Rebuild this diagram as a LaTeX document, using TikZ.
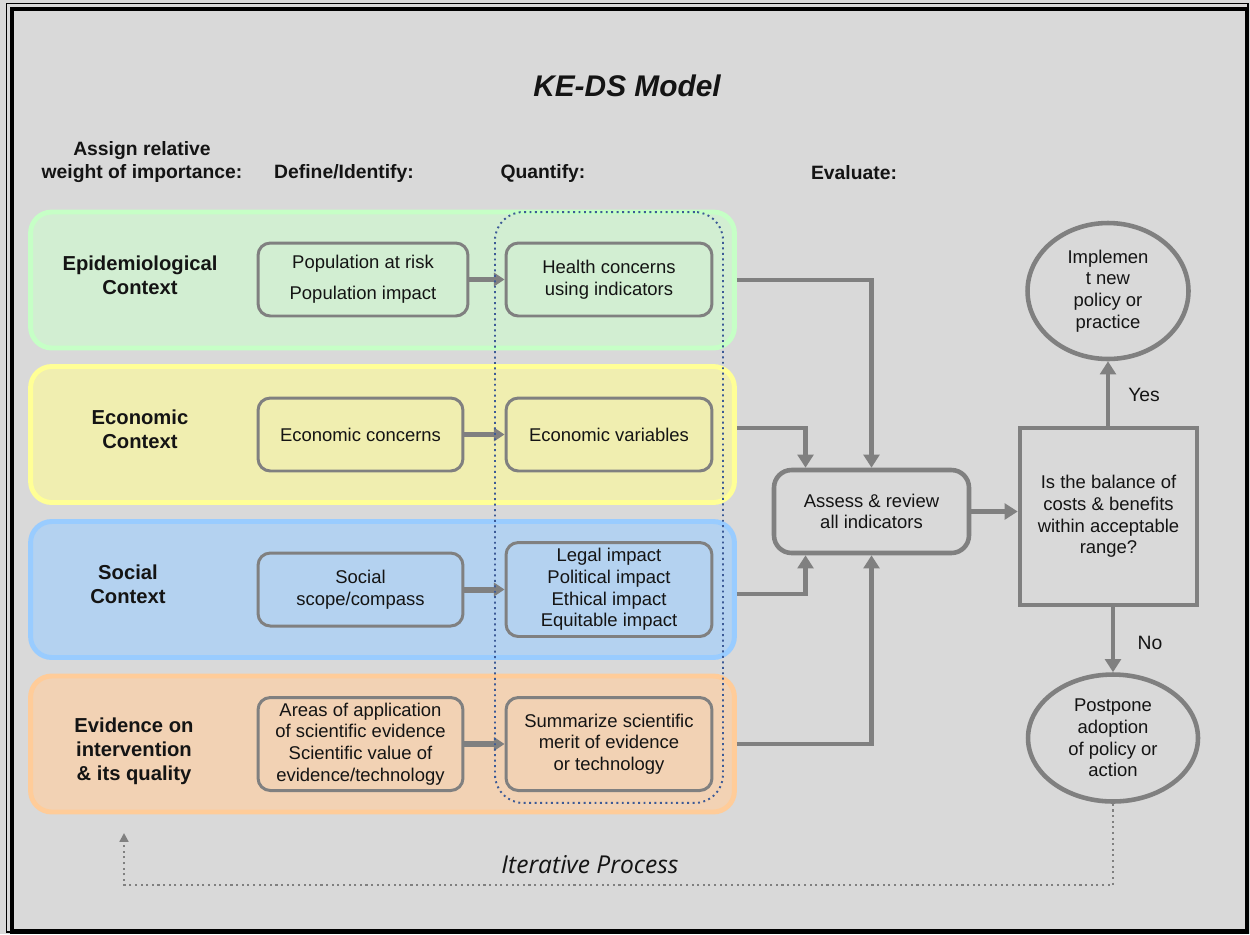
\documentclass[tikz,border=0pt]{standalone}
\usepackage{fontspec}
\setmainfont{Liberation Sans}
\newfontfamily\iterfont{Open Sans}
\usetikzlibrary{arrows.meta,shapes.geometric}

\definecolor{bggray}{RGB}{217,217,217}
\definecolor{linegray}{RGB}{128,128,128}
\definecolor{txt}{RGB}{20,20,20}
\definecolor{epifill}{RGB}{210,238,210}
\definecolor{epiline}{RGB}{198,255,198}
\definecolor{ecofill}{RGB}{240,238,176}
\definecolor{ecoline}{RGB}{255,255,150}
\definecolor{socfill}{RGB}{180,210,240}
\definecolor{socline}{RGB}{153,204,255}
\definecolor{evifill}{RGB}{242,210,180}
\definecolor{eviline}{RGB}{255,204,153}
\definecolor{qblue}{RGB}{60,90,150}

\begin{document}
\begin{tikzpicture}[x=0.02cm,y=-0.02cm,
  band/.style={line width=2.8pt, rounded corners=12pt, minimum width=14.08cm, minimum height=2.72cm, inner sep=0pt},
  lbl/.style={align=center, text=txt, font=\bfseries\fontsize{11.5}{13.6}\selectfont},
  hdr/.style={align=center, text=txt, font=\bfseries\fontsize{11}{13}\selectfont},
  stepbox/.style={draw=linegray, line width=1.7pt, rounded corners=7pt, align=center, text=txt,
    inner sep=0pt, font=\fontsize{10.5}{12.4}\selectfont},
  ovalbox/.style={ellipse, draw=linegray, line width=2.6pt, align=center, text=txt,
    inner sep=0pt, font=\fontsize{10.5}{12.4}\selectfont},
  conn/.style={draw=linegray, line width=2.7pt, -{Triangle[length=7.5pt,width=9pt]}},
  feed/.style={draw=linegray, line width=3.4pt, -{Triangle[length=6pt,width=7.5pt]}},
  iter/.style={draw=linegray, line width=1.2pt, dotted, -{Triangle[length=5pt,width=5pt]}}
]
\useasboundingbox (0,0) rectangle (1250,934);
\fill[bggray] (0,0) rectangle (1250,934);

% Frame
\draw[black, line width=0.8pt] (6.5,3.5) rectangle (1248,932);
\draw[black, line width=2.6pt] (12,9) rectangle (1247,931.5);

% Title and column headers
\node[font=\bfseries\itshape\fontsize{17}{20}\selectfont, text=txt] (title) at (627,86) {KE-DS Model};
\node[hdr] (hweight) at (142,162) {Assign relative\\weight of importance:};
\node[hdr] (hdefine) at (344,173) {Define/Identify:};
\node[hdr] (hquant) at (543,173) {Quantify:};
\node[hdr] (heval) at (854,173) {Evaluate:};

% Context bands
\node[band, fill=epifill, draw=epiline] (epi) at (382.5,280) {};
\node[band, fill=ecofill, draw=ecoline] (eco) at (382.5,434.5) {};
\node[band, fill=socfill, draw=socline] (soc) at (382.5,589.5) {};
\node[band, fill=evifill, draw=eviline] (evi) at (382.5,744) {};

\node[lbl] (epilbl) at (140,275) {Epidemiological\\Context};
\node[lbl] (ecolbl) at (140,429) {Economic\\Context};
\node[lbl] (soclbl) at (128,584) {Social\\Context};
\node[lbl] (evilbl) at (134,751) {Evidence on\\intervention\\\& its quality};

% Define/Identify boxes
\node[stepbox, minimum width=4.2cm, minimum height=1.46cm] (def1) at (363,279.5)
  {Population at risk\\[5pt]Population impact};
\node[stepbox, minimum width=4.1cm, minimum height=1.46cm] (def2) at (360.5,434.5)
  {Economic concerns};
\node[stepbox, minimum width=4.1cm, minimum height=1.46cm] (def3) at (360.5,589.5)
  {Social\\scope/compass};
\node[stepbox, minimum width=4.1cm, minimum height=1.86cm] (def4) at (360.5,744)
  {Areas of application\\of scientific evidence\\Scientific value of\\evidence/technology};

% Quantify boxes
\node[stepbox, minimum width=4.12cm, minimum height=1.46cm] (q1) at (609,279.5)
  {Health concerns\\using indicators};
\node[stepbox, minimum width=4.12cm, minimum height=1.46cm] (q2) at (609,434.5)
  {Economic variables};
\node[stepbox, minimum width=4.12cm, minimum height=1.88cm] (q3) at (609,589.5)
  {Legal impact\\Political impact\\Ethical impact\\Equitable impact};
\node[stepbox, minimum width=4.12cm, minimum height=1.86cm] (q4) at (609,744)
  {Summarize scientific\\merit of evidence\\or technology};

\foreach \a/\b in {def1/q1,def2/q2,def3/q3,def4/q4}
  \draw[feed] (\a.east) -- (\b.west);

\node[draw=qblue, dotted, line width=1.1pt, rounded corners=16pt, minimum width=4.56cm,
  minimum height=11.82cm] (qgroup) at (609,507.5) {};

% Evaluate
\node[stepbox, line width=2.6pt, rounded corners=10pt, minimum width=3.9cm, minimum height=1.66cm]
  (assess) at (871.5,511.5) {Assess \& review\\all indicators};
\node[draw=linegray, line width=2.6pt, align=center, text=txt, inner sep=0pt,
  font=\fontsize{10.5}{12.4}\selectfont, minimum width=3.54cm, minimum height=3.54cm]
  (decide) at (1108.5,516.5) {Is the balance of\\costs \& benefits\\within acceptable\\range?};
\node[ovalbox, minimum width=3.22cm, minimum height=2.72cm] (impl) at (1108,291)
  {Implemen\\t new\\policy or\\practice};
\node[ovalbox, minimum width=3.4cm, minimum height=2.54cm] (post) at (1113,738)
  {Postpone\\adoption\\of policy or\\action};

% Connectors
\draw[conn] (epi.east) -| (assess.north);
\draw[conn] ([yshift=0.13cm]eco.east) -| ([xshift=-1.32cm]assess.north);
\draw[conn] ([yshift=-0.09cm]soc.east) -| ([xshift=-1.32cm]assess.south);
\draw[conn] (evi.east) -| (assess.south);
\draw[conn] (assess.east) -- (assess.east -| decide.west);
\draw[conn] (impl.south |- decide.north) -- (impl.south);
\draw[conn] (post.north |- decide.south) -- (post.north);
\node[text=txt, font=\fontsize{11}{13}\selectfont] (yes) at (1144,395) {Yes};
\node[text=txt, font=\fontsize{11}{13}\selectfont] (no) at (1150,643) {No};

% Iterative loop
\coordinate (loopend) at (124,833);
\draw[iter] (post.south) -- ++(0,81) -| (loopend);
\node[text=txt, font=\iterfont\itshape\fontsize{14}{16}\selectfont] (iterlbl) at (590,865) {Iterative Process};
\end{tikzpicture}
\end{document}
